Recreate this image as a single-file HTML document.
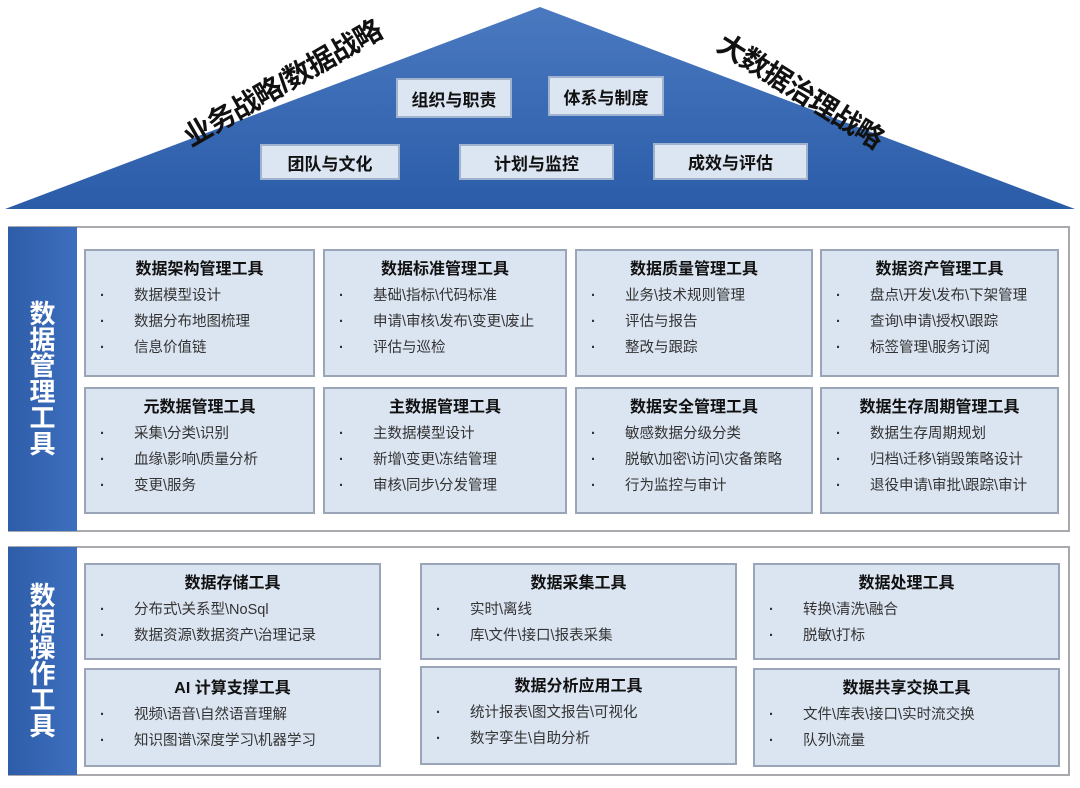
<!DOCTYPE html>
<html><head><meta charset="utf-8"><style>
*{margin:0;padding:0;box-sizing:border-box}
body{width:1080px;height:788px;background:#fff;position:relative;overflow:hidden;font-family:"Liberation Sans","Noto Sans CJK SC",sans-serif;color:#222}
.a{position:absolute}
.rb{position:absolute;background:#dce5f2;border:2px solid #9fb3cf;font-size:17px;font-weight:bold;color:#111;display:flex;align-items:center;justify-content:center}
.sec{position:absolute;left:8px;width:1062px;border:2px solid #a7a9ad;background:#fff}
.bar{position:absolute;left:8px;width:69px;background:linear-gradient(90deg,#2e5da8,#3d6fbf);color:#fff;font-weight:bold;font-size:26px;line-height:26px;text-align:center;display:flex;align-items:center;justify-content:center}
.c{position:absolute;background:#dbe4f1;border:2px solid #9aa6b8}
.c h{display:block;text-align:center;font-weight:bold;font-size:16px;margin-top:9px;margin-bottom:3px;line-height:20px;color:#111}
.c p{font-size:14.5px;line-height:26px;padding-left:48px;position:relative;color:#333;white-space:nowrap}
.c p:before{content:"·";position:absolute;left:14px;font-weight:bold}
</style></head><body>
<svg class="a" style="left:0;top:0" width="1080" height="215">
<defs><linearGradient id="g" x1="0" y1="0" x2="0" y2="1"><stop offset="0" stop-color="#4a79c0"/><stop offset="1" stop-color="#2b5ca8"/></linearGradient></defs>
<polygon points="540,7 1075,209 5,209" fill="url(#g)"/>
</svg>
<div class="a" style="left:167px;top:62px;width:230px;font-size:28px;font-weight:bold;transform:rotate(-30deg);transform-origin:center;text-align:center;color:#111;letter-spacing:-1px">业务战略/数据战略</div>
<div class="a" style="left:701px;top:70px;width:200px;font-size:28px;font-weight:bold;transform:rotate(32deg);transform-origin:center;text-align:center;color:#111;letter-spacing:-1px">大数据治理战略</div>
<div class="rb" style="left:396px;top:78px;width:116px;height:40px">组织与职责</div>
<div class="rb" style="left:548px;top:76px;width:116px;height:40px">体系与制度</div>
<div class="rb" style="left:260px;top:144px;width:140px;height:36px">团队与文化</div>
<div class="rb" style="left:459px;top:144px;width:155px;height:36px">计划与监控</div>
<div class="rb" style="left:653px;top:143px;width:155px;height:37px">成效与评估</div>

<div class="sec" style="top:226px;height:306px"></div>
<div class="bar" style="top:227px;height:304px"><div>数<br>据<br>管<br>理<br>工<br>具</div></div>
<div class="c" style="left:84px;top:249px;width:231px;height:128px"><h>数据架构管理工具</h><p>数据模型设计</p><p>数据分布地图梳理</p><p>信息价值链</p></div>
<div class="c" style="left:323px;top:249px;width:244px;height:128px"><h>数据标准管理工具</h><p>基础\指标\代码标准</p><p>申请\审核\发布\变更\废止</p><p>评估与巡检</p></div>
<div class="c" style="left:575px;top:249px;width:238px;height:128px"><h>数据质量管理工具</h><p>业务\技术规则管理</p><p>评估与报告</p><p>整改与跟踪</p></div>
<div class="c" style="left:820px;top:249px;width:239px;height:128px"><h>数据资产管理工具</h><p>盘点\开发\发布\下架管理</p><p>查询\申请\授权\跟踪</p><p>标签管理\服务订阅</p></div>
<div class="c" style="left:84px;top:387px;width:231px;height:127px"><h>元数据管理工具</h><p>采集\分类\识别</p><p>血缘\影响\质量分析</p><p>变更\服务</p></div>
<div class="c" style="left:323px;top:387px;width:244px;height:127px"><h>主数据管理工具</h><p>主数据模型设计</p><p>新增\变更\冻结管理</p><p>审核\同步\分发管理</p></div>
<div class="c" style="left:575px;top:387px;width:238px;height:127px"><h>数据安全管理工具</h><p>敏感数据分级分类</p><p>脱敏\加密\访问\灾备策略</p><p>行为监控与审计</p></div>
<div class="c" style="left:820px;top:387px;width:239px;height:127px"><h>数据生存周期管理工具</h><p>数据生存周期规划</p><p>归档\迁移\销毁策略设计</p><p>退役申请\审批\跟踪\审计</p></div>

<div class="sec" style="top:546px;height:230px"></div>
<div class="bar" style="top:547px;height:228px"><div>数<br>据<br>操<br>作<br>工<br>具</div></div>
<div class="c" style="left:84px;top:563px;width:297px;height:97px"><h>数据存储工具</h><p>分布式\关系型\NoSql</p><p>数据资源\数据资产\治理记录</p></div>
<div class="c" style="left:420px;top:563px;width:317px;height:97px"><h>数据采集工具</h><p>实时\离线</p><p>库\文件\接口\报表采集</p></div>
<div class="c" style="left:753px;top:563px;width:307px;height:97px"><h>数据处理工具</h><p>转换\清洗\融合</p><p>脱敏\打标</p></div>
<div class="c" style="left:84px;top:668px;width:297px;height:99px"><h>AI 计算支撑工具</h><p>视频\语音\自然语音理解</p><p>知识图谱\深度学习\机器学习</p></div>
<div class="c" style="left:420px;top:666px;width:317px;height:99px"><h>数据分析应用工具</h><p>统计报表\图文报告\可视化</p><p>数字孪生\自助分析</p></div>
<div class="c" style="left:753px;top:668px;width:307px;height:99px"><h>数据共享交换工具</h><p>文件\库表\接口\实时流交换</p><p>队列\流量</p></div>
</body></html>
